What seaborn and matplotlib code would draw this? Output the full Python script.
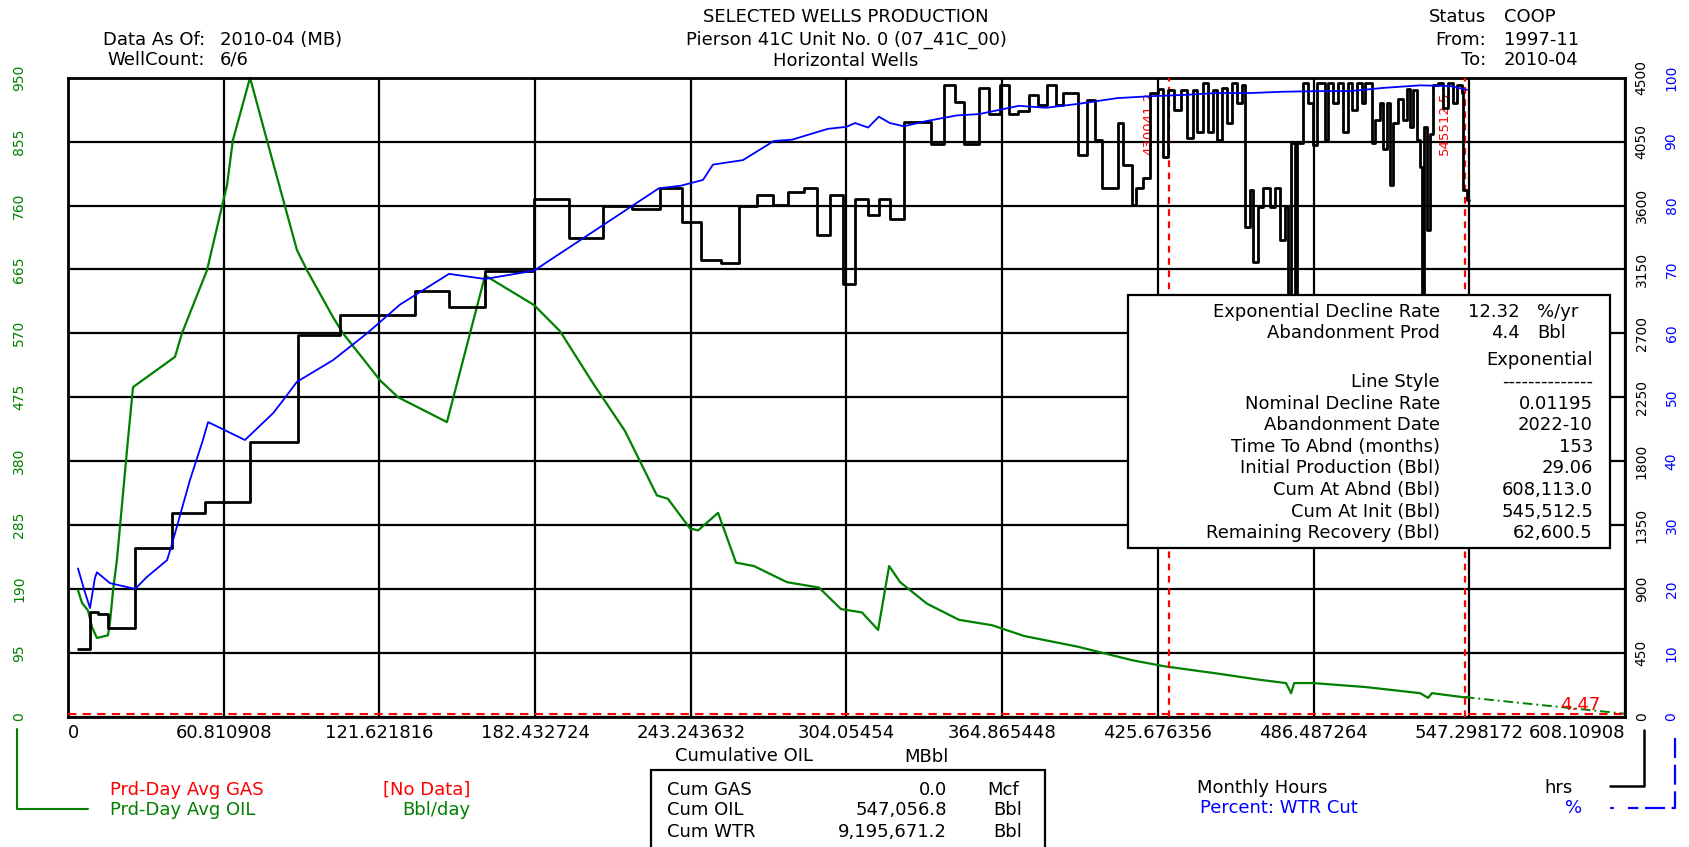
import numpy as np
import pandas as pd
import matplotlib
matplotlib.use("Agg")
import matplotlib.pyplot as plt
import seaborn as sns
from matplotlib.patches import Rectangle
from matplotlib.lines import Line2D

# ---------------- data ----------------
oil_cum = [3.9, 5.5, 7.8, 9.4, 11.3, 15.6, 16.4, 17.6, 19.1, 23.4,
           25.4, 41.8, 44.5, 54.3, 60.1, 62.1, 64.4, 71.1, 77.7, 84.8,
           89.4, 93.3, 103.5, 107.4, 121.9, 128.9, 148.0, 162.9, 182.0, 192.2,
           205.0, 217.5, 230.0, 234.3, 242.9, 246.1, 253.9, 260.9, 267.9, 280.8,
           293.3, 301.9, 310.1, 316.4, 320.7, 325.0, 335.5, 348.0, 360.9, 373.4,
           394.5, 415.6, 428.1, 449.2, 465.2, 475.7, 477.7, 478.9, 486.3, 507.0,
           528.1, 531.2, 532.7, 544.9, 547.1]
oil_rate = [188, 169, 158, 133, 117, 121, 140, 188, 233, 411,
            490, 535, 570, 664, 758, 790, 857, 950, 857, 758,
            694, 664, 594, 570, 500, 475, 438, 656, 612, 573,
            496, 425, 329, 324, 280, 277, 303, 229, 224, 200,
            192, 160, 155, 129, 224, 200, 168, 144, 136, 120,
            104, 84, 75, 64, 55, 50, 35, 50, 50, 44,
            35, 28, 35, 29, 29]

wcut_cum = [3.9, 6.6, 8.6, 10.5, 11.3, 16.4, 26.2, 30.9, 38.7, 40.6,
            47.6, 52.7, 54.7, 59.4, 69.1, 80.1, 83.6, 89.4, 103.5, 116.8,
            129.7, 148.8, 162.9, 182.0, 230.8, 239.4, 248.0, 251.9, 263.6, 275.7,
            282.8, 296.8, 303.9, 307.4, 312.5, 316.7, 321.0, 326.5, 335.1, 347.2,
            355.8, 371.4, 382.0, 394.5, 409.7, 422.6, 435.5, 448.8, 461.6, 474.5,
            487.8, 500.7, 513.6, 528.0, 539.8, 546.4]
wcut_pct = [23.2, 19.5, 17.0, 21.7, 22.6, 20.9, 20.0, 21.9, 24.5, 27.0,
            37.0, 43.3, 46.1, 45.2, 43.3, 47.5, 49.3, 52.4, 55.8, 60.0,
            64.5, 69.3, 68.5, 69.8, 82.7, 83.1, 84.0, 86.4, 87.1, 90.1,
            90.3, 92.0, 92.3, 92.9, 92.2, 93.9, 92.9, 92.4, 93.2, 94.1,
            94.3, 95.6, 95.3, 95.9, 96.8, 97.1, 97.3, 97.6, 97.6, 97.8,
            97.9, 97.9, 98.4, 98.8, 98.7, 98.1]

hrs_cum = [3.9, 8.6, 11.7, 15.6, 26.2, 40.6, 53.5, 71.1, 89.8, 106.2,
           135.7, 148.8, 162.9, 182.0, 195.7, 209.0, 220.3, 231.2, 239.8, 247.2,
           255.0, 262.1, 269.1, 275.4, 281.2, 287.5, 292.5, 297.6, 302.7, 307.4,
           312.5, 316.7, 321.0, 326.5, 337.1, 342.1, 346.4, 349.9, 355.8, 359.9,
           364.0, 367.5, 371.0, 375.3, 378.9, 382.4, 385.9, 388.6, 394.5, 398.0,
           401.1, 403.8, 410.1, 412.0, 415.6, 417.1, 419.9, 422.6, 425.7, 427.7,
           429.6, 432.0, 434.7, 437.0, 439.4, 440.9, 443.3, 445.2, 447.2, 448.8,
           450.7, 452.7, 454.6, 456.6, 458.5, 459.7, 461.6, 462.8, 464.8, 466.7,
           469.5, 471.4, 473.4, 475.3, 476.5, 477.7, 479.2, 480.0, 482.3, 484.3,
           486.3, 487.8, 490.9, 492.1, 494.1, 496.0, 498.0, 499.9, 501.5, 503.4,
           505.4, 506.6, 509.3, 510.5, 512.4, 513.6, 515.2, 516.3, 517.5, 519.5,
           521.4, 523.0, 524.2, 525.3, 526.9, 528.1, 528.8, 529.6, 530.8, 532.0,
           533.2, 535.1, 537.0, 539.0, 541.0, 542.5, 544.5, 544.9, 546.4, 547.1]
hrs_val = [475, 739, 723, 622, 1191, 1434, 1512, 1934, 2687, 2829,
           3000, 2885, 3138, 3648, 3370, 3596, 3575, 3722, 3484, 3219,
           3195, 3596, 3671, 3600, 3695, 3722, 3392, 3674, 3046, 3648,
           3533, 3648, 3505, 4190, 4030, 4452, 4332, 4030, 4425, 4244,
           4452, 4241, 4265, 4378, 4309, 4448, 4309, 4392, 3956, 4343,
           4061, 3722, 4180, 3885, 3603, 3722, 3793, 4392, 4420, 3940,
           4413, 4272, 4413, 4075, 4413, 4117, 4462, 4117, 4413, 4061,
           4427, 4180, 4462, 4322, 4448, 3449, 3708, 3201, 3589, 3722,
           3589, 3722, 3356, 3589, 2500, 4040, 2500, 4040, 4462, 4322,
           4026, 4462, 4061, 4462, 4322, 4462, 4117, 4462, 4272, 4462,
           4322, 4462, 4040, 4200, 4322, 4000, 4322, 3744, 4180, 4350,
           4200, 4420, 4150, 4413, 4061, 3870, 2400, 4150, 3427, 4100,
           4450, 4462, 4290, 4462, 4322, 4448, 4392, 3708, 3638, 3638]

forecast_cum = [545.5125, 608.113]
forecast_rate = [29.06, 4.4]

x_ticks = [0, 60.810908, 121.621816, 182.432724, 243.243632, 304.05454,
           364.865448, 425.676356, 486.487264, 547.298172, 608.10908]
x_tick_labels = ["0", "60.810908", "121.621816", "182.432724", "243.243632",
                 "304.05454", "364.865448", "425.676356", "486.487264",
                 "547.298172", "608.10908"]
oil_ticks = [0, 95, 190, 285, 380, 475, 570, 665, 760, 855, 950]
hrs_ticks = [0, 450, 900, 1350, 1800, 2250, 2700, 3150, 3600, 4050, 4500]
pct_ticks = [0, 10, 20, 30, 40, 50, 60, 70, 80, 90, 100]

fit_start = 430.0412
fit_start_label = "430041.2"
cum_at_init = 545.5125
cum_at_init_label = "545512.5"
abandon_rate = 4.4
end_rate_label = "4.47"

decline_rows = [
    ("Exponential Decline Rate", "12.32", "%/yr"),
    ("Abandonment Prod", "4.4", "Bbl"),
    ("", "Exponential", None),
    ("Line Style", "--------------", None),
    ("Nominal Decline Rate", "0.01195", None),
    ("Abandonment Date", "2022-10", None),
    ("Time To Abnd (months)", "153", None),
    ("Initial Production (Bbl)", "29.06", None),
    ("Cum At Abnd (Bbl)", "608,113.0", None),
    ("Cum At Init (Bbl)", "545,512.5", None),
    ("Remaining Recovery (Bbl)", "62,600.5", None),
]
cum_rows = [("Cum GAS", "0.0", "Mcf"), ("Cum OIL", "547,056.8", "Bbl"),
            ("Cum WTR", "9,195,671.2", "Bbl")]

GREEN = "#008000"
BLUE = "#0000FF"
RED = "#FF0000"

# ---------------- figure ----------------
sns.set_theme(style="white")
plt.rcParams["font.family"] = ["DejaVu Sans"]
FS = 13
YFS = 10

W, H = 1690, 847
fig = plt.figure(figsize=(W / 100, H / 100), dpi=100)
fig.patch.set_facecolor("white")


def fx(x):
    return x / W


def fy(y):
    return 1 - y / H


L, R, T, B = 68, 1625, 77.7, 716.7
ax = fig.add_axes([fx(L), fy(B), (R - L) / W, (B - T) / H])
ax2 = ax.twinx()
ax3 = ax.twinx()

oil_df = pd.DataFrame({"cum": oil_cum, "rate": oil_rate})
wc_df = pd.DataFrame({"cum": wcut_cum, "pct": wcut_pct})
hr_df = pd.DataFrame({"cum": hrs_cum, "hrs": hrs_val})
fc_df = pd.DataFrame({"cum": forecast_cum, "rate": forecast_rate})

sns.lineplot(data=oil_df, x="cum", y="rate", ax=ax, color=GREEN, lw=1.6,
             estimator=None, sort=False, clip_on=False)
sns.lineplot(data=fc_df, x="cum", y="rate", ax=ax, color=GREEN, lw=1.4,
             estimator=None, sort=False, linestyle=(0, (5, 2, 1, 2)))
sns.lineplot(data=hr_df, x="cum", y="hrs", ax=ax2, color="black", lw=2.0,
             estimator=None, sort=False, drawstyle="steps-post")
sns.lineplot(data=wc_df, x="cum", y="pct", ax=ax3, color=BLUE, lw=1.3,
             estimator=None, sort=False)

# reference lines
ax.axhline(abandon_rate, color=RED, lw=1.5, ls=(0, (4, 3)), zorder=3)
for xv, lab in [(fit_start, fit_start_label), (cum_at_init, cum_at_init_label)]:
    ax.axvline(xv, color=RED, lw=1.6, ls=(0, (3, 2.5)), zorder=3)
    ax.annotate(lab, xy=(xv, 1), xycoords=("data", "axes fraction"),
                xytext=(-10, -10), textcoords="offset points", rotation=90,
                ha="right", va="top", color=RED, fontsize=9.5)
ax.text(590.5, 17.4, end_rate_label, color=RED, fontsize=FS, ha="center",
        va="center")

# axes limits / ticks
ax.set_xlim(0, 608.10908)
ax.set_ylim(0, 950)
ax2.set_ylim(0, 4500)
ax3.set_ylim(0, 100)

ax.set_xticks(x_ticks)
ax.set_xticklabels(x_tick_labels, fontsize=FS, color="black")
ax.get_xticklabels()[0].set_ha("left")
ax.get_xticklabels()[-1].set_ha("right")
ax.set_yticks(oil_ticks)
ax.set_yticklabels([str(v) for v in oil_ticks], fontsize=YFS, color=GREEN)
ax2.set_yticks(hrs_ticks)
ax2.set_yticklabels([str(v) for v in hrs_ticks], fontsize=YFS, color="black")
ax3.set_yticks(pct_ticks)
ax3.set_yticklabels([str(v) for v in pct_ticks], fontsize=YFS, color=BLUE)

ax.tick_params(axis="x", length=0, pad=5)
ax.tick_params(axis="y", length=0, pad=30, labelrotation=90)
ax2.tick_params(axis="y", length=0, pad=7, labelrotation=90)
ax3.tick_params(axis="y", length=0, pad=28.5, labelrotation=90)
for lab in ax.get_yticklabels() + ax2.get_yticklabels() + ax3.get_yticklabels():
    lab.set_va("center")

for a in (ax, ax2, ax3):
    a.set_xlabel("")
    a.set_ylabel("")
ax.grid(True, color="black", lw=1.6)
ax2.grid(False)
ax3.grid(False)
for s in ax.spines.values():
    s.set_color("black")
    s.set_linewidth(2)
for a in (ax2, ax3):
    for s in a.spines.values():
        s.set_visible(False)


# ---------------- figure texts ----------------
def T(x, y, s, ha="left", color="black", size=FS, z=3):
    fig.text(fx(x), fy(y), s, ha=ha, va="center", color=color, fontsize=size,
             zorder=z)


T(846, 17, "SELECTED WELLS PRODUCTION", "center")
T(846, 40, "Pierson 41C Unit No. 0 (07_41C_00)", "center")
T(846, 61, "Horizontal Wells", "center")

T(205, 40, "Data As Of:", "right")
T(220, 40, "2010-04 (MB)")
T(205, 60, "WellCount:", "right")
T(220, 60, "6/6")

T(1486, 17, "Status", "right")
T(1504, 17, "COOP")
T(1486, 40, "From:", "right")
T(1504, 40, "1997-11")
T(1486, 60, "To:", "right")
T(1504, 60, "2010-04")

T(675, 756, "Cumulative OIL")
T(904, 757, "MBbl")

T(110, 790, "Prd-Day Avg GAS", color=RED)
T(383, 790, "[No Data]", color=RED)
T(110, 810, "Prd-Day Avg OIL", color=GREEN)
T(402, 810, "Bbl/day", color=GREEN)

T(1197, 788, "Monthly Hours")
T(1544, 788, "hrs")
T(1200, 808, "Percent: WTR Cut", color=BLUE)
T(1565, 808, "%", color=BLUE)

# axis brackets
fig.add_artist(Line2D([fx(17), fx(17), fx(88)], [fy(729), fy(809), fy(809)],
                      color=GREEN, lw=1.5))
fig.add_artist(Line2D([fx(1644), fx(1644), fx(1610)], [fy(730), fy(786), fy(786)],
                      color="black", lw=1.8))
fig.add_artist(Line2D([fx(1675), fx(1675), fx(1628)], [fy(738), fy(808), fy(808)],
                      color=BLUE, lw=1.6, ls=(0, (9, 3))))
fig.add_artist(Line2D([fx(1611), fx(1613)], [fy(808), fy(808)], color=BLUE, lw=1.6))

# cumulative box
fig.add_artist(Rectangle((fx(651), fy(870)), (1045 - 651) / W, (870 - 770) / H,
                         fill=False, edgecolor="black", lw=1.6, clip_on=False))
for i, (lab, val, unit) in enumerate(cum_rows):
    yy = [790, 810, 832][i]
    T(667, yy, lab)
    T(947, yy, val, "right")
    T(987 if unit == "Mcf" else 993, yy, unit)

# decline box
fig.add_artist(Rectangle((fx(1128), fy(548)), (1610 - 1128) / W, (548 - 295) / H,
                         facecolor="white", edgecolor="black", lw=1.6, zorder=5))
row_y = [312, 333, 360, 382, 404, 425, 447, 468, 490, 512, 533]
for (lab, val, unit), yy in zip(decline_rows, row_y):
    if lab:
        T(1440, yy, lab, "right", z=6)
    if unit:
        T(1520, yy, val, "right", z=6)
        T(1537, yy, unit, z=6)
    else:
        T(1593, yy, val, "right", z=6)

fig.savefig("out.png", dpi=100, facecolor="white")
